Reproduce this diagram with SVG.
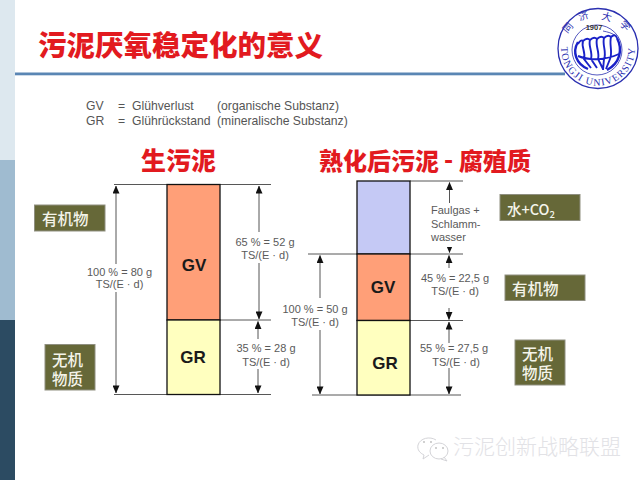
<svg xmlns="http://www.w3.org/2000/svg" width="640" height="480" viewBox="0 0 640 480">
<defs>
<marker id="a" viewBox="0 0 10 10" refX="9.500" refY="5" markerWidth="8" markerHeight="7" orient="auto-start-reverse" markerUnits="userSpaceOnUse" preserveAspectRatio="none"><path d="M0 0L10 5L0 10Z" fill="#111"/></marker>
</defs>
<style>
.sans{font-family:"Liberation Sans",Arial,sans-serif}
.cjk{font-family:"Noto Sans CJK SC","Noto Sans",sans-serif}
.title{font-weight:900;fill:#e21a1f}
.small{font-size:11px;fill:#5a5a5a;text-anchor:middle}
.left{text-anchor:start}
.bar{stroke:#111;stroke-width:1.300}
.big{font-size:17px;font-weight:700;fill:#1a1a1a;text-anchor:middle}
.tag{fill:#666838;stroke:#8f8f80;stroke-width:1}
.tagt{font-size:15.500px;font-weight:500;fill:#f4f4ea}
.hl{stroke:#444;stroke-width:.900;fill:none}
.dim{stroke:#555;stroke-width:1;fill:none;marker-start:url(#a);marker-end:url(#a)}
.seal{font-family:"Noto Sans CJK SC",sans-serif;font-size:10px;fill:#2a2fb0;text-anchor:middle;dominant-baseline:central}
.mask{fill:#fff;stroke:none}
</style>
<rect width="640" height="480" fill="#fff"/>
<g id="band">
<rect x="0" y="0" width="15" height="160" fill="#dde8ef"/>
<rect x="0" y="160" width="15" height="160" fill="#9fbbd0"/>
<rect x="0" y="320" width="15" height="160" fill="#2c4b62"/>
</g>
<text id="title" class="cjk title" x="38" y="56" font-size="28.500">污泥厌氧稳定化的意义</text>
<rect id="rule" x="15" y="72.500" width="550" height="2.800" fill="#5a86b4"/>
<g id="logo" fill="none" stroke="#2a2fb0">
<circle cx="598" cy="48.500" r="40" fill="#fff" stroke-width="1.300"/>
<circle cx="597" cy="50" r="25" stroke-width=".800"/>
<path d="M578 42C572 52 576 64 588 69M617 38C623 50 620 63 607 70" stroke="#1a22c8" stroke-width="2.400"/>
<path d="M583 41C581 47 586 52 584 59L591 68M590 40C588 46 593 52 591 59L597 68M597 39C595 46 600 52 598 59L603 69M604 38C602 45 607 52 604 59L603 70M611 37C609 45 613 52 610 59L606 69M578 44Q581 39 583 41Q587 37 590 40Q594 36 597 39Q601 35 604 38Q608 34 611 37Q615 33 617 38M578 56C590 61 606 60 619 54" stroke="#1a22c8" stroke-width="1.900"/>
<path d="M603 31C608 32 612 33 616 36" stroke-width=".800"/>
<text class="sans" x="594" y="30" font-size="7.500" font-weight="700" fill="#333" stroke="none" text-anchor="middle">1907</text>
<text class="seal" stroke="none" transform="translate(567 27) rotate(-50)">同</text>
<text class="seal" stroke="none" transform="translate(583 15) rotate(-18)">济</text>
<text class="seal" stroke="none" transform="translate(607 16) rotate(15)">大</text>
<text class="seal" stroke="none" transform="translate(626 25) rotate(48)">学</text>
<path id="arc" d="M561.300 44A37 37 0 1 0 634.700 44" stroke="none"/>
<text font-family="'Liberation Serif',serif" font-size="10" fill="#2a2fb0" stroke="none" letter-spacing="1.300"><textPath href="#arc" startOffset="50%" text-anchor="middle">TONGJI UNIVERSITY</textPath></text>
</g>
<g id="legend" class="sans" font-size="12.200" fill="#555">
<text x="86" y="110">GV</text><text x="118" y="110">=</text><text x="132" y="110">Glühverlust</text><text x="217" y="110">(organische Substanz)</text>
<text x="86" y="125">GR</text><text x="118" y="125">=</text><text x="132" y="125">Glührückstand</text><text x="217" y="125">(mineralische Substanz)</text>
</g>
<text id="head1" class="cjk title" x="141" y="170" font-size="25">生污泥</text>
<g id="head2" class="cjk title" font-size="24">
<text x="319" y="170">熟化后污泥</text><text x="444" y="168">-</text><text x="459" y="170">腐殖质</text>
</g>
<g id="connectors">
<path class="hl" d="M114 184.500H271M220 320H271M114 394.500H271"/>
<path class="dim" d="M116 186V393"/>
<path class="dim" d="M259 186V319"/>
<path class="dim" d="M258 321.500V393"/>
<path class="hl" d="M410 181H463M308 254H463M410 320.500H463M312 395H461"/>
<path class="dim" d="M449.500 182.500V252.500"/>
<path class="dim" d="M449 255.500V319.500"/>
<path class="dim" d="M449 322V394"/>
<path class="dim" d="M320 255.500V394"/>
</g>
<g id="masks">
<rect class="mask" x="235" y="232" width="62" height="31"/>
<rect class="mask" x="86" y="264" width="66" height="28"/>
<rect class="mask" x="235" y="339" width="62" height="30"/>
<rect class="mask" x="428" y="203" width="56" height="44"/>
<rect class="mask" x="420" y="268" width="70" height="40"/>
<rect class="mask" x="420" y="343" width="70" height="25"/>
<rect class="mask" x="283" y="298" width="66" height="32"/>
</g>
<g id="bar1">
<rect class="bar" x="167" y="184.500" width="53" height="135.500" fill="#ff9f78"/>
<rect class="bar" x="167" y="320" width="53" height="74.500" fill="#ffffbf"/>
<text class="sans big" x="194" y="271">GV</text>
<text class="sans big" x="193" y="363">GR</text>
</g>
<g id="bar2">
<rect class="bar" x="357" y="181" width="53" height="73" fill="#c5c9f5"/>
<rect class="bar" x="357" y="254" width="53" height="66.500" fill="#ff9f78"/>
<rect class="bar" x="357" y="320.500" width="53" height="74.500" fill="#ffffbf"/>
<text class="sans big" x="383" y="293">GV</text>
<text class="sans big" x="385" y="369">GR</text>
</g>
<g id="dimtext" class="sans small">
<text x="265" y="245.500">65 % = 52 g</text><text x="265" y="259">TS/(E · d)</text>
<text x="119.500" y="275.500">100 % = 80 g</text><text x="119.500" y="288">TS/(E · d)</text>
<text x="266" y="352">35 % = 28 g</text><text x="266" y="366">TS/(E · d)</text>
<text x="315" y="313">100 % = 50 g</text><text x="315" y="326">TS/(E · d)</text>
<text class="sans small left" x="431" y="214">Faulgas  +</text>
<text class="sans small left" x="431" y="228">Schlamm-</text>
<text class="sans small left" x="431" y="241">wasser</text>
<text x="455" y="282">45 % = 22,5 g</text><text x="455" y="294.500">TS/(E · d)</text>
<text x="454" y="352">55 % = 27,5 g</text><text x="456" y="366">TS/(E · d)</text>
</g>
<g id="tag1"><rect class="tag" x="34.500" y="205" width="70.500" height="26"/><text class="cjk tagt" x="42" y="225">有机物</text></g>
<g id="tag2"><rect class="tag" x="45" y="344.500" width="50" height="45.500"/><text class="cjk tagt"><tspan x="52" y="366">无机</tspan><tspan x="52" y="385">物质</tspan></text></g>
<g id="tag3"><rect class="tag" x="500" y="194.500" width="80" height="26"/><text class="cjk tagt" style="font-size:14.500px" x="507" y="215">水+CO<tspan font-size="9.500" dy="3">2</tspan></text></g>
<g id="tag4"><rect class="tag" x="505" y="275" width="80" height="25.500"/><text class="cjk tagt" x="512" y="295">有机物</text></g>
<g id="tag5"><rect class="tag" x="515" y="340" width="50" height="45"/><text class="cjk tagt"><tspan x="522" y="360">无机</tspan><tspan x="522" y="379">物质</tspan></text></g>
<g id="watermark">
<g fill="none" stroke="#d4d4d8" stroke-width="1">
<path d="M436 440C430 436 420 438 418 445C417 450 420 453 424 455L423 459L429 455"/>
<ellipse cx="439" cy="451" rx="9" ry="8" fill="#fff"/>
<path d="M444 457L447 461L441 459"/>
</g>
<g fill="#bbb"><circle cx="424" cy="442" r=".9"/><circle cx="431" cy="442" r=".9"/><circle cx="436" cy="448" r=".9"/><circle cx="443" cy="448" r=".9"/></g>
<text class="cjk" x="453" y="454" font-size="21" font-weight="300" fill="#e2e2e6">污泥创新战略联盟</text>
</g>
</svg>
